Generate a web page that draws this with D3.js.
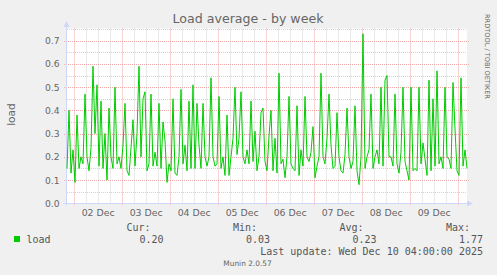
<!DOCTYPE html>
<html>
<head>
<meta charset="utf-8">
<script src="https://cdn.jsdelivr.net/npm/d3@7"></script>
<style>
  html, body { margin: 0; padding: 0; background: #f0f0f0; }
  svg { display: block; }
  text { font-family: "DejaVu Sans", sans-serif; fill: #666; }
  .mono { font-family: "DejaVu Sans Mono", monospace; font-size: 10px; fill: #555; }
</style>
</head>
<body>
<div id="load-chart"></div>
<script>
// hourly load average
var loadValues = [
  0.15, 0.40, 0.13, 0.23, 0.09, 0.38, 0.15, 0.20, 0.17, 0.47, 0.20, 0.14,
  0.24, 0.59, 0.30, 0.51, 0.16, 0.44, 0.15, 0.30, 0.10, 0.41, 0.20, 0.15,
  0.50, 0.17, 0.20, 0.15, 0.25, 0.43, 0.14, 0.12, 0.24, 0.36, 0.16, 0.30,
  0.59, 0.20, 0.45, 0.48, 0.14, 0.17, 0.47, 0.16, 0.22, 0.16, 0.43, 0.15,
  0.35, 0.27, 0.09, 0.17, 0.14, 0.45, 0.13, 0.12, 0.20, 0.49, 0.17, 0.25,
  0.14, 0.44, 0.15, 0.51, 0.15, 0.43, 0.25, 0.15, 0.43, 0.20, 0.16, 0.20,
  0.54, 0.20, 0.16, 0.17, 0.46, 0.15, 0.20, 0.12, 0.38, 0.12, 0.20, 0.28,
  0.50, 0.21, 0.28, 0.48, 0.20, 0.17, 0.23, 0.17, 0.44, 0.18, 0.31, 0.14,
  0.20, 0.39, 0.41, 0.18, 0.14, 0.29, 0.40, 0.14, 0.28, 0.13, 0.56, 0.17,
  0.19, 0.11, 0.20, 0.46, 0.17, 0.15, 0.14, 0.42, 0.12, 0.23, 0.16, 0.46,
  0.20, 0.18, 0.22, 0.33, 0.11, 0.16, 0.20, 0.56, 0.20, 0.17, 0.28, 0.47,
  0.25, 0.15, 0.16, 0.39, 0.20, 0.14, 0.13, 0.21, 0.41, 0.20, 0.15, 0.18,
  0.42, 0.14, 0.08, 0.20, 0.73, 0.15, 0.20, 0.23, 0.47, 0.15, 0.20, 0.23,
  0.17, 0.50, 0.16, 0.53, 0.55, 0.20, 0.20, 0.16, 0.47, 0.17, 0.13, 0.22,
  0.50, 0.18, 0.14, 0.10, 0.50, 0.14, 0.15, 0.14, 0.50, 0.17, 0.26, 0.19,
  0.12, 0.53, 0.14, 0.45, 0.16, 0.57, 0.17, 0.20, 0.15, 0.50, 0.20, 0.19,
  0.15, 0.52, 0.32, 0.14, 0.12, 0.54, 0.16, 0.23, 0.15
];

var yTicks = [0, 0.1, 0.2, 0.3, 0.4, 0.5, 0.6, 0.7];
var legendHeads = ['Cur:', 'Min:', 'Avg:', 'Max:'];
var legendValues = ['0.20', '0.03', '0.23', '1.77'];
var seriesName = 'load';
var lastUpdate = 'Last update: Wed Dec 10 04:00:00 2025';

var startTime = Date.UTC(2025, 11, 1, 20, 40);
var endTime = Date.UTC(2025, 11, 10, 4, 40);
var yMax = 0.7525;

var COLORS = {
  back: '#f0f0f0',
  canvas: '#ffffff',
  axis: '#cfd6f8',
  grid: '#d4d4d4',
  mgrid: '#f0a8a8',
  line: '#00cc00'
};

var render = function() {
  var W = 497, H = 275;
  var plot = { left: 67, right: 467, top: 28.5, bottom: 203.3 };

  var svg = d3.select('#load-chart')
    .append('svg')
    .attr('width', W)
    .attr('height', H);

  svg.append('rect')
    .attr('width', W)
    .attr('height', H)
    .attr('fill', COLORS.back);

  var xScale = d3.scaleUtc()
    .domain([new Date(startTime), new Date(endTime)])
    .range([plot.left, plot.right]);

  var yScale = d3.scaleLinear()
    .domain([0, yMax])
    .range([plot.bottom, plot.top]);

  // canvas
  svg.append('rect')
    .attr('x', plot.left)
    .attr('y', plot.top)
    .attr('width', plot.right - plot.left)
    .attr('height', plot.bottom - plot.top)
    .attr('fill', COLORS.canvas);

  // grid: minor every 0.05 / 6h, major every 0.1 / day
  var minorY = d3.range(0, yMax, 0.05).filter(function(d, i) { return i % 2 == 1; });
  var snap = function(v) { return Math.round(v) + 0.5; };

  var grid = svg.append('g').attr('class', 'grid');

  grid.selectAll('line.hminor')
    .data(minorY)
    .enter()
    .append('line')
    .attr('x1', plot.left)
    .attr('x2', plot.right)
    .attr('y1', d => snap(yScale(d)))
    .attr('y2', d => snap(yScale(d)))
    .attr('stroke', COLORS.grid)
    .attr('stroke-dasharray', '1,1');

  var hours = d3.utcHour.every(6).range(new Date(startTime), new Date(endTime))
    .filter(d => d.getUTCHours() != 0);

  grid.selectAll('line.vminor')
    .data(hours)
    .enter()
    .append('line')
    .attr('x1', d => snap(xScale(d)))
    .attr('x2', d => snap(xScale(d)))
    .attr('y1', plot.top)
    .attr('y2', plot.bottom)
    .attr('stroke', COLORS.grid)
    .attr('stroke-dasharray', '1,1');

  grid.selectAll('line.hmajor')
    .data(yTicks.slice(1))
    .enter()
    .append('line')
    .attr('x1', plot.left - 3)
    .attr('x2', plot.right + 2)
    .attr('y1', d => snap(yScale(d)))
    .attr('y2', d => snap(yScale(d)))
    .attr('stroke', COLORS.mgrid)
    .attr('stroke-dasharray', '1,1');

  var days = d3.utcDay.range(new Date(startTime), new Date(endTime));

  grid.selectAll('line.vmajor')
    .data(days)
    .enter()
    .append('line')
    .attr('x1', d => snap(xScale(d)))
    .attr('x2', d => snap(xScale(d)))
    .attr('y1', plot.top)
    .attr('y2', plot.bottom + 2)
    .attr('stroke', COLORS.mgrid)
    .attr('stroke-dasharray', '1,1');

  // axes text
  var yAxis = d3.axisLeft(yScale)
    .tickValues(yTicks)
    .tickFormat(d3.format('.1f'))
    .tickSize(0)
    .tickPadding(7);

  var yAxisG = svg.append('g')
    .attr('transform', 'translate(' + (plot.left - 0.5) + ',0)')
    .call(yAxis);
  yAxisG.select('.domain').remove();
  yAxisG.selectAll('text')
    .attr('font-family', '"DejaVu Sans", sans-serif')
    .attr('font-size', 9.2)
    .attr('fill', '#666');

  var noons = days.map(d => d3.utcHour.offset(d, 12))
    .filter(d => d > xScale.domain()[0] && d < xScale.domain()[1]);

  var xAxis = d3.axisBottom(xScale)
    .tickValues(noons)
    .tickFormat(d3.utcFormat('%d %b'))
    .tickSize(0)
    .tickPadding(6);

  var xAxisG = svg.append('g')
    .attr('transform', 'translate(0,' + plot.bottom + ')')
    .call(xAxis);
  xAxisG.select('.domain').remove();
  xAxisG.selectAll('text')
    .attr('font-family', '"DejaVu Sans", sans-serif')
    .attr('font-size', 9.4)
    .attr('fill', '#666');

  // axis lines + arrows
  var ax = snap(plot.left - 1);
  var ay = snap(plot.bottom - 0.3);

  svg.append('line')
    .attr('x1', ax).attr('x2', ax)
    .attr('y1', 26).attr('y2', ay + 2)
    .attr('stroke', COLORS.axis);

  svg.append('line')
    .attr('x1', ax - 3).attr('x2', 469)
    .attr('y1', ay).attr('y2', ay)
    .attr('stroke', COLORS.axis);

  svg.append('path')
    .attr('d', 'M' + ax + ',21 L' + (ax - 3) + ',27 L' + (ax + 3) + ',27 Z')
    .attr('fill', COLORS.axis);

  svg.append('path')
    .attr('d', 'M473,' + ay + ' L467,' + (ay - 3) + ' L467,' + (ay + 3) + ' Z')
    .attr('fill', COLORS.axis);

  // the series
  var line = d3.line()
    .x((d, i) => xScale(d3.utcHour.offset(new Date(startTime), i)))
    .y(d => yScale(d));

  svg.append('path')
    .datum(loadValues)
    .attr('d', line)
    .attr('fill', 'none')
    .attr('stroke', COLORS.line)
    .attr('stroke-width', 1);

  // titles
  svg.append('text')
    .attr('x', 248)
    .attr('y', 23)
    .attr('text-anchor', 'middle')
    .attr('font-size', 12.6)
    .attr('fill', '#555')
    .text('Load average - by week');

  svg.append('text')
    .attr('transform', 'translate(14.5,114.5) rotate(-90)')
    .attr('text-anchor', 'middle')
    .attr('font-size', 10.6)
    .text(seriesName);

  svg.append('text')
    .attr('transform', 'translate(485,14) rotate(90)')
    .attr('font-size', 6.6)
    .attr('fill', '#c0c0c0')
    .text('RRDTOOL / TOBI OETIKER');

  // legend
  var colEnds = [150.5, 257, 363.5, 470];

  svg.selectAll('text.head')
    .data(legendHeads)
    .enter()
    .append('text')
    .attr('class', 'mono')
    .attr('x', (d, i) => colEnds[i])
    .attr('y', 231)
    .attr('text-anchor', 'end')
    .text(d => d);

  svg.selectAll('text.val')
    .data(legendValues)
    .enter()
    .append('text')
    .attr('class', 'mono')
    .attr('x', (d, i) => colEnds[i] + 13)
    .attr('y', 243)
    .attr('text-anchor', 'end')
    .text(d => d);

  svg.append('rect')
    .attr('x', 14)
    .attr('y', 236)
    .attr('width', 6)
    .attr('height', 6)
    .attr('fill', COLORS.line);

  svg.append('text')
    .attr('class', 'mono')
    .attr('x', 26.5)
    .attr('y', 243)
    .text(seriesName);

  svg.append('text')
    .attr('class', 'mono')
    .attr('x', 483)
    .attr('y', 255)
    .attr('text-anchor', 'end')
    .text(lastUpdate);

  svg.append('text')
    .attr('x', 247.5)
    .attr('y', 266)
    .attr('text-anchor', 'middle')
    .attr('font-size', 7.4)
    .attr('fill', '#c4c4c4')
    .text('Munin 2.0.57');
};

window.onload = render;
</script>
</body>
</html>
